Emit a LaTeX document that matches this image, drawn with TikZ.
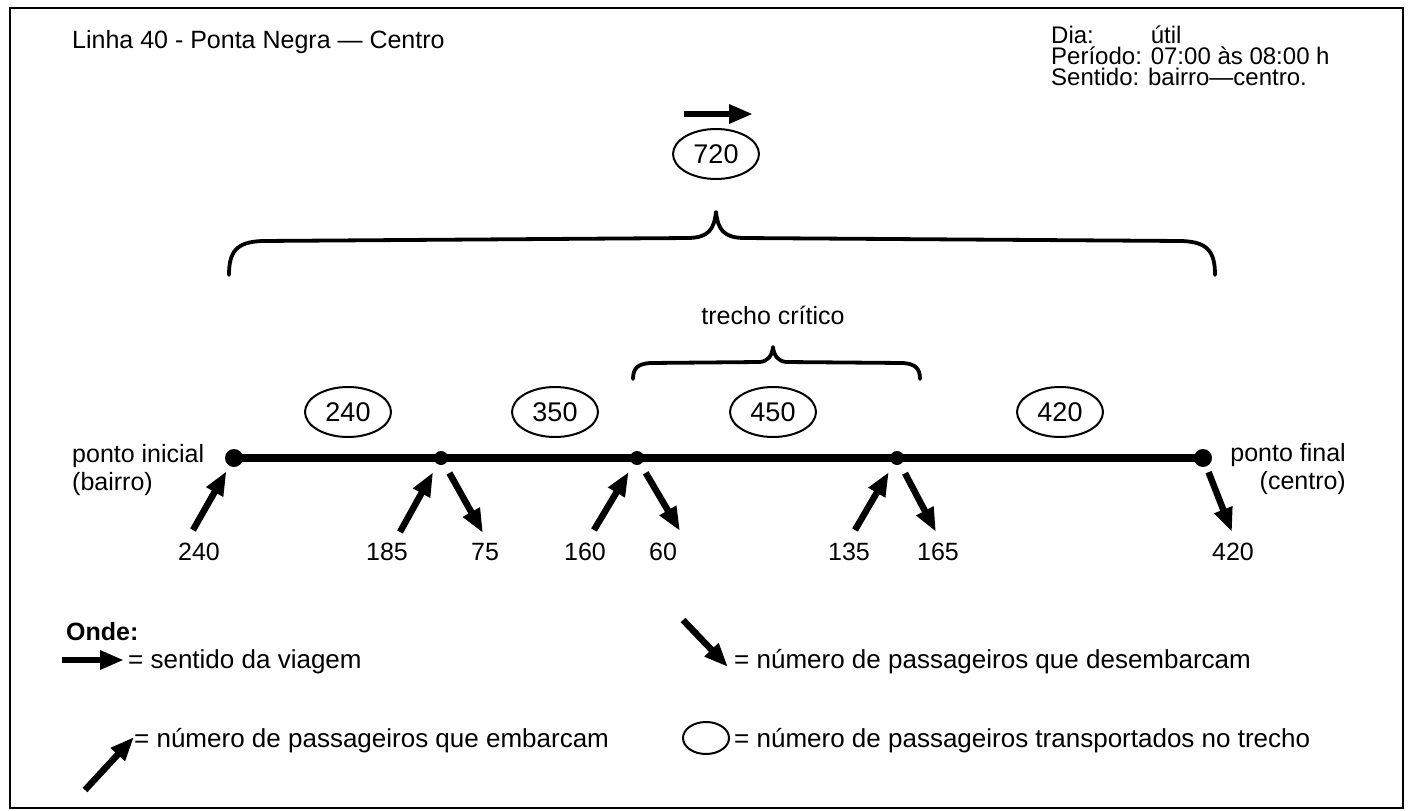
\documentclass[tikz,border=0pt]{standalone}
\usepackage{fontspec}
\setmainfont{Liberation Sans}
\usetikzlibrary{shapes.geometric,arrows.meta}
\newcommand{\tightlines}{\lineskiplimit=-100pt\relax\lineskip=0pt\relax}
\begin{document}
\begin{tikzpicture}[x=1pt,y=-1pt,
  txt/.style={inner sep=0pt, font=\fontsize{25pt}{27pt}\selectfont},
  lbl/.style={txt, anchor=base west},
  leg/.style={inner sep=0pt, anchor=base west, font=\fontsize{26pt}{28pt}\selectfont},
  num/.style={txt, anchor=base},
  oval/.style={draw, line width=2pt, ellipse, minimum width=86pt, minimum height=50pt, inner sep=0pt, font=\fontsize{27pt}{28pt}\selectfont},
  bigdot/.style={circle, fill, minimum size=18pt, inner sep=0pt},
  smalldot/.style={circle, fill, minimum size=14pt, inner sep=0pt},
  flow/.style={line width=6.5pt, -{Triangle[length=24pt,width=18pt]}},
  brace/.style={line width=3.8pt, line cap=round, line join=round}
]
\useasboundingbox (0,0) rectangle (1411,811);
\draw[line width=2.5pt] (10,8) rectangle (1403,808);

% header
\node[lbl] (title) at (72,48) {Linha 40 - Ponta Negra — Centro};
\node[anchor=base west, inner sep=0pt, align=left, font={\fontsize{24pt}{21pt}\selectfont\tightlines}] (info) at (1051,85)
  {\rlap{Dia:}\phantom{Período: }útil\\Período: 07:00 às 08:00 h\\Sentido: bairro—centro.};

% overall flow
\coordinate (ta) at (684,114);
\coordinate (tb) at (753,114);
\draw[flow] (ta) -- (tb);
\node[oval] (o720) at (716,154) {720};
\draw[brace] (229,275) .. controls (229,252) and (236,242) .. (262,241) -- (690,238) .. controls (708,237) and (714,230) .. (716,212) .. controls (718,230) and (724,237) .. (742,238) -- (1182,241) .. controls (1208,242) and (1215,252) .. (1215,275);

% critical section
\node[num] (crit) at (773,324) {trecho crítico};
\draw[brace] (633,379) .. controls (633,368) and (638,364) .. (650,363) -- (760,362) .. controls (768,361) and (772,356) .. (773,347) .. controls (774,356) and (778,361) .. (786,362) -- (903,363) .. controls (915,364) and (920,368) .. (920,379);

% segment loads
\node[oval] (o240) at (348,412) {240};
\node[oval] (o350) at (555,412) {350};
\node[oval] (o450) at (773,412) {450};
\node[oval] (o420) at (1060,412) {420};

% stops
\node[bigdot] (p0) at (234,458) {};
\node[smalldot] (p1) at (441,458) {};
\node[smalldot] (p2) at (637,458) {};
\node[smalldot] (p3) at (897,458) {};
\node[bigdot] (p4) at (1203,458) {};
\draw[line width=8pt] (p0.center) -- (p4.center);

\node[lbl] (pi1) at (72,462) {ponto inicial};
\node[lbl] (pi2) at (72,490) {(bairro)};
\node[txt, anchor=base east] (pf1) at (1346,461) {ponto final};
\node[txt, anchor=base east] (pf2) at (1346,489) {(centro)};

% boarding
\coordinate (e0) at (193,530);
\coordinate (e1) at (400,532);
\coordinate (e2) at (594,530);
\coordinate (e3) at (855,530);
\draw[flow, shorten >=6pt] (e0) -- (p0);
\draw[flow, shorten >=9pt] (e1) -- (p1);
\draw[flow, shorten >=9pt] (e2) -- (p2);
\draw[flow, shorten >=9pt] (e3) -- (p3);
% alighting
\coordinate (d1) at (483,533);
\coordinate (d2) at (680,531);
\coordinate (d3) at (936,532);
\coordinate (d4) at (1232,532);
\draw[flow, shorten <=10pt] (p1) -- (d1);
\draw[flow, shorten <=10pt] (p2) -- (d2);
\draw[flow, shorten <=10pt] (p3) -- (d3);
\draw[flow, shorten <=6pt] (p4) -- (d4);

\node[num] (n0) at (199,560) {240};
\node[num] (n1) at (387,560) {185};
\node[num] (n2) at (485,560) {75};
\node[num] (n3) at (585,560) {160};
\node[num] (n4) at (663,560) {60};
\node[num] (n5) at (849,560) {135};
\node[num] (n6) at (938,560) {165};
\node[num] (n7) at (1233,560) {420};

% legend
\node[lbl, font=\fontsize{25pt}{27pt}\selectfont\bfseries] (onde) at (66,640) {Onde:};
\coordinate (la) at (62,660);
\coordinate (lb) at (124,660);
\draw[flow] (la) -- (lb);
\node[leg] (l1) at (128,668) {= sentido da viagem};

\coordinate (lc) at (85,790);
\coordinate (ld) at (134,737);
\draw[flow] (lc) -- (ld);
\node[leg] (l2) at (134,747) {= número de passageiros que embarcam};

\coordinate (le) at (683,620);
\coordinate (lf) at (728,667);
\draw[flow] (le) -- (lf);
\node[leg] (l3) at (734,668) {= número de passageiros que desembarcam};

\node[draw, line width=2pt, ellipse, minimum width=46pt, minimum height=32pt, inner sep=0pt] (lo) at (706,738) {};
\node[leg] (l4) at (734,747) {= número de passageiros transportados no trecho};
\end{tikzpicture}
\end{document}
